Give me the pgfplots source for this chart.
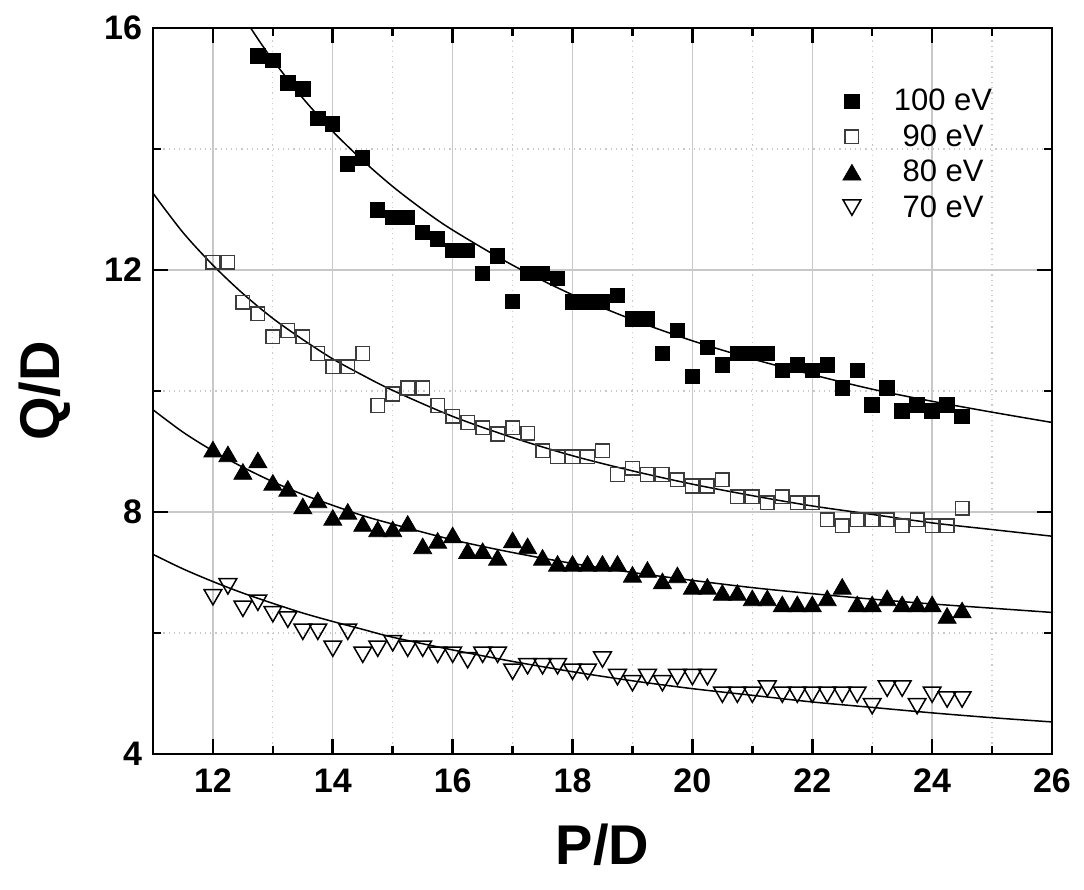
\documentclass[border=0pt]{standalone}
\usepackage{pgfplots}
\pgfplotsset{compat=1.18}
\usepackage{pgfplotstable}
\usepackage{fontspec}
\setmainfont{Liberation Sans}

\pgfplotstableread{
x y
12.75 15.54
13.0 15.46
13.25 15.09
13.5 14.99
13.75 14.50
14.0 14.41
14.25 13.75
14.5 13.85
14.75 12.99
15.0 12.87
15.25 12.87
15.5 12.62
15.75 12.51
16.0 12.32
16.25 12.32
16.5 11.94
16.75 12.23
17.0 11.48
17.25 11.94
17.5 11.94
17.75 11.86
18.0 11.47
18.25 11.47
18.5 11.47
18.75 11.58
19.0 11.19
19.25 11.19
19.5 10.62
19.75 11.00
20.0 10.24
20.25 10.72
20.5 10.43
20.75 10.62
21.0 10.62
21.25 10.62
21.5 10.34
21.75 10.43
22.0 10.34
22.25 10.43
22.5 10.05
22.75 10.34
23.0 9.77
23.25 10.05
23.5 9.67
23.75 9.77
24.0 9.67
24.25 9.77
24.5 9.58
}\dataA

\pgfplotstableread{
x y
12.0 12.13
12.25 12.13
12.5 11.47
12.75 11.28
13.0 10.90
13.25 11.00
13.5 10.90
13.75 10.62
14.0 10.40
14.25 10.40
14.5 10.62
14.75 9.76
15.0 9.95
15.25 10.05
15.5 10.05
15.75 9.76
16.0 9.58
16.25 9.48
16.5 9.39
16.75 9.29
17.0 9.39
17.25 9.30
17.5 9.01
17.75 8.91
18.0 8.91
18.25 8.91
18.5 9.01
18.75 8.62
19.0 8.72
19.25 8.62
19.5 8.62
19.75 8.53
20.0 8.43
20.25 8.43
20.5 8.53
20.75 8.25
21.0 8.25
21.25 8.15
21.5 8.25
21.75 8.15
22.0 8.15
22.25 7.87
22.5 7.77
22.75 7.87
23.0 7.87
23.25 7.87
23.5 7.77
23.75 7.87
24.0 7.77
24.25 7.77
24.5 8.06
}\dataB

\pgfplotstableread{
x y
12.0 9.04
12.25 8.96
12.5 8.67
12.75 8.86
13.0 8.49
13.25 8.39
13.5 8.10
13.75 8.20
14.0 7.91
14.25 8.01
14.5 7.81
14.75 7.72
15.0 7.72
15.25 7.81
15.5 7.44
15.75 7.53
16.0 7.62
16.25 7.36
16.5 7.36
16.75 7.25
17.0 7.54
17.25 7.44
17.5 7.25
17.75 7.15
18.0 7.15
18.25 7.15
18.5 7.15
18.75 7.15
19.0 6.97
19.25 7.05
19.5 6.86
19.75 6.96
20.0 6.77
20.25 6.77
20.5 6.67
20.75 6.67
21.0 6.58
21.25 6.58
21.5 6.48
21.75 6.48
22.0 6.48
22.25 6.58
22.5 6.77
22.75 6.48
23.0 6.48
23.25 6.58
23.5 6.48
23.75 6.48
24.0 6.48
24.25 6.29
24.5 6.38
}\dataC

\pgfplotstableread{
x y
12.0 6.59
12.25 6.77
12.5 6.40
12.75 6.50
13.0 6.31
13.25 6.22
13.5 6.02
13.75 6.02
14.0 5.74
14.25 6.02
14.5 5.64
14.75 5.74
15.0 5.83
15.25 5.74
15.5 5.74
15.75 5.64
16.0 5.64
16.25 5.55
16.5 5.64
16.75 5.64
17.0 5.36
17.25 5.45
17.5 5.45
17.75 5.45
18.0 5.36
18.25 5.36
18.5 5.56
18.75 5.27
19.0 5.17
19.25 5.27
19.5 5.17
19.75 5.27
20.0 5.27
20.25 5.27
20.5 4.98
20.75 4.98
21.0 4.98
21.25 5.08
21.5 4.98
21.75 4.98
22.0 4.98
22.25 4.98
22.5 4.98
22.75 4.98
23.0 4.79
23.25 5.08
23.5 5.08
23.75 4.79
24.0 4.98
24.25 4.90
24.5 4.90
}\dataD

\definecolor{gridgray}{RGB}{200,200,200}
\definecolor{edgegray}{RGB}{60,60,60}

\begin{document}
\begin{tikzpicture}
\useasboundingbox (-76.5pt,-68pt) rectangle (465.5pt,377pt);
\begin{axis}[
  at={(0,0)}, anchor=south west,
  scale only axis,
  width=449.5pt, height=363pt,
  xmin=11, xmax=26, ymin=4, ymax=16,
  xtick={12,14,...,26}, minor xtick={11,13,...,25},
  ytick={4,8,12,16}, minor ytick={6,10,14},
  grid=both,
  major grid style={line width=0.7pt, draw=gridgray},
  minor grid style={line width=0.6pt, draw=gridgray, dotted},
  axis line style={line width=1.4pt},
  tick align=inside,
  major tick length=7.5pt, minor tick length=4pt,
  every tick/.style={black, line width=1.3pt},
  /pgf/number format/assume math mode=true,
  ticklabel style={font=\fontsize{17}{20}\selectfont\bfseries},
  xticklabel style={yshift=-4pt},
  yticklabel style={xshift=-2pt},
  xlabel={P/D}, ylabel={Q/D},
  label style={font=\fontsize{28}{32}\selectfont\bfseries},
  xlabel style={at={(axis description cs:0.5,-0.125)}, anchor=center},
  ylabel style={at={(axis description cs:-0.12,0.5)}, anchor=center},
  legend style={draw=none, fill=none, at={(axis description cs:0.767,0.922)}, anchor=north west,
    font=\fontsize{15.5}{18}\selectfont, row sep=1.4pt, inner sep=0pt},
  legend cell align=left,
]
\addplot[only marks, mark=square*, mark size=3.6pt, mark options={fill=black, draw=black, line width=0.5pt}] table[x=x,y=y] {\dataA};
\addlegendentry{\hspace{14.5pt}100 eV}
\addplot[only marks, mark=square, mark size=3.4pt, mark options={draw=edgegray, fill=white, line width=0.75pt}] table[x=x,y=y] {\dataB};
\addlegendentry{\hspace{14.5pt}\ 90 eV}
\addplot[only marks, mark=triangle*, mark size=5.2pt, mark options={fill=black, draw=black, line width=0.4pt, yshift=-1.3pt}] table[x=x,y=y] {\dataC};
\addlegendentry{\hspace{14.5pt}\ 80 eV}
\addplot[only marks, mark=triangle, mark size=5.1pt, mark options={draw=black, fill=white, line width=0.75pt, yshift=1.3pt, rotate=180}] table[x=x,y=y] {\dataD};
\addlegendentry{\hspace{14.5pt}\ 70 eV}

% fitted curves
\addplot[black, line width=0.75pt, smooth, forget plot] coordinates {
(12.5,16.20) (12.75,15.82) (13,15.47) (13.5,14.84) (14,14.29) (14.5,13.81) (15,13.38) (15.5,13.00) (16,12.66) (17,12.08) (18,11.59) (19,11.18) (20,10.83) (21,10.53) (22,10.27) (23,10.03) (24,9.83) (25,9.65) (26,9.48)};
\addplot[black, line width=0.75pt, smooth, forget plot] coordinates {
(11,13.27) (11.5,12.62) (12,12.08) (12.5,11.61) (13,11.20) (13.5,10.85) (14,10.53) (14.5,10.26) (15,10.01) (16,9.58) (17,9.23) (18,8.93) (19,8.68) (20,8.46) (21,8.27) (22,8.10) (23,7.96) (24,7.82) (25,7.71) (26,7.60)};
\addplot[black, line width=0.75pt, smooth, forget plot] coordinates {
(11,9.69) (11.5,9.32) (12,9.01) (12.5,8.74) (13,8.50) (13.5,8.29) (14,8.11) (14.5,7.94) (15,7.80) (16,7.54) (17,7.33) (18,7.15) (19,7.00) (20,6.87) (21,6.75) (22,6.65) (23,6.56) (24,6.48) (25,6.41) (26,6.34)};
\addplot[black, line width=0.75pt, smooth, forget plot] coordinates {
(11,7.30) (11.5,7.06) (12,6.85) (12.5,6.66) (13,6.49) (13.5,6.33) (14,6.19) (14.5,6.06) (15,5.93) (16,5.72) (17,5.53) (18,5.36) (19,5.21) (20,5.08) (21,4.97) (22,4.86) (23,4.77) (24,4.68) (25,4.60) (26,4.53)};
\end{axis}
\end{tikzpicture}
\end{document}
